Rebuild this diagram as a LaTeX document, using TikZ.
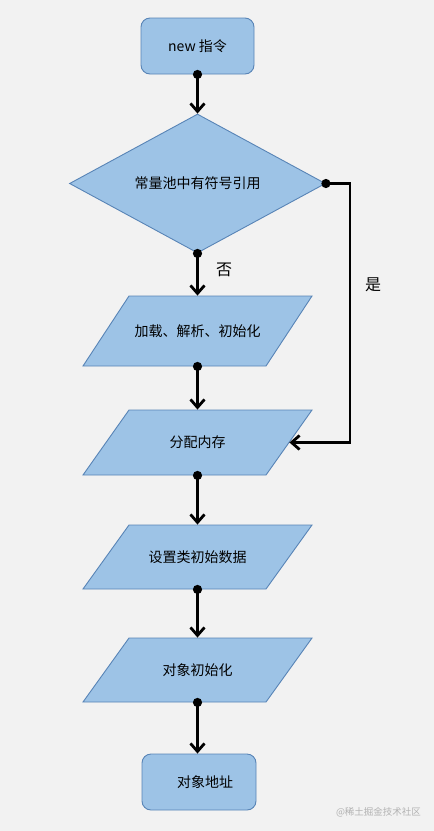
\documentclass[tikz,border=0pt]{standalone}
\usepackage{fontspec}
\setmainfont{Noto Sans CJK SC}
\usetikzlibrary{shapes.geometric,arrows.meta}

\definecolor{paper}{RGB}{242,242,242}
\definecolor{boxfill}{RGB}{157,195,230}
\definecolor{boxline}{RGB}{88,132,182}

\begin{document}
\begin{tikzpicture}[x=1pt,y=-1pt]

      \fill[paper] (0,0) rectangle (434,831);
      \useasboundingbox (0,0) rectangle (434,831);

      % slanted boxes: centre x / centre y / half height
      \foreach \cx/\cy/\hh in {197.5/331/35, 197.5/442.5/32.5, 197.5/557/32, 197.5/670/32}
        \filldraw[fill=boxfill,draw=boxline,line width=0.9pt]
          ({\cx-68.5},{\cy-\hh}) -- ({\cx+114.5},{\cy-\hh}) --
          ({\cx+68.5},{\cy+\hh}) -- ({\cx-114.5},{\cy+\hh}) -- cycle;

      \begin{scope}[every node/.style={fill=boxfill,draw=boxline,line width=0.9pt,inner sep=0pt,
          font=\fontsize{14}{17}\selectfont},
          para/.style={rectangle,fill=none,draw=none,minimum width=183pt,minimum height=65pt}]
        \node[rectangle,rounded corners=9pt,minimum width=113pt,minimum height=56pt] (new) at (197.5,46) {new 指令};
        \node[diamond,minimum width=256pt,minimum height=128pt] (pool) at (197.5,183.5) {常量池中有符号引用};
        \node[para,minimum height=70pt] (load) at (197.5,331) {加载、解析、初始化};
        \node[para] (alloc)   at (197.5,442.5) {分配内存};
        \node[para,minimum height=64pt] (setdata) at (197.5,557) {设置类初始数据};
        \node[para,minimum height=64pt] (objinit) at (197.5,670) {对象初始化};
        \node[rectangle,rounded corners=9pt,minimum width=114pt,minimum height=56pt] (addr) at (199,782) {\hspace{12pt}对象地址};
      \end{scope}

      \coordinate (turn) at (350,183.5);

      \begin{scope}[every edge/.style={draw,line width=2.8pt,shorten <=-4.5pt,
          {Circle[length=9pt]}-{Straight Barb[length=8pt,width=14pt]}}]
        \path (new.south)     edge (new.south |- pool.north);
        \path (pool.south)    edge (pool.south |- load.north);
        \path (load.south)    edge (load.south |- alloc.north);
        \path (alloc.south)   edge (alloc.south |- setdata.north);
        \path (setdata.south) edge (setdata.south |- objinit.north);
        \path (objinit.south) edge (objinit.south |- addr.north);
        \path (pool.east)     edge[to path={-- (turn) |- (\tikztotarget)}] (alloc.east);
      \end{scope}

      \begin{scope}[every node/.style={font=\fontsize{16}{18}\selectfont}]
        \node (no)  at (224,270) {否};
        \node (yes) at (373,285) {是};
      \end{scope}

      \node[text=black!30,font=\fontsize{9.5}{11}\selectfont] (mark) at (378.5,812) {@稀土掘金技术社区};

    \end{tikzpicture}
\end{document}
